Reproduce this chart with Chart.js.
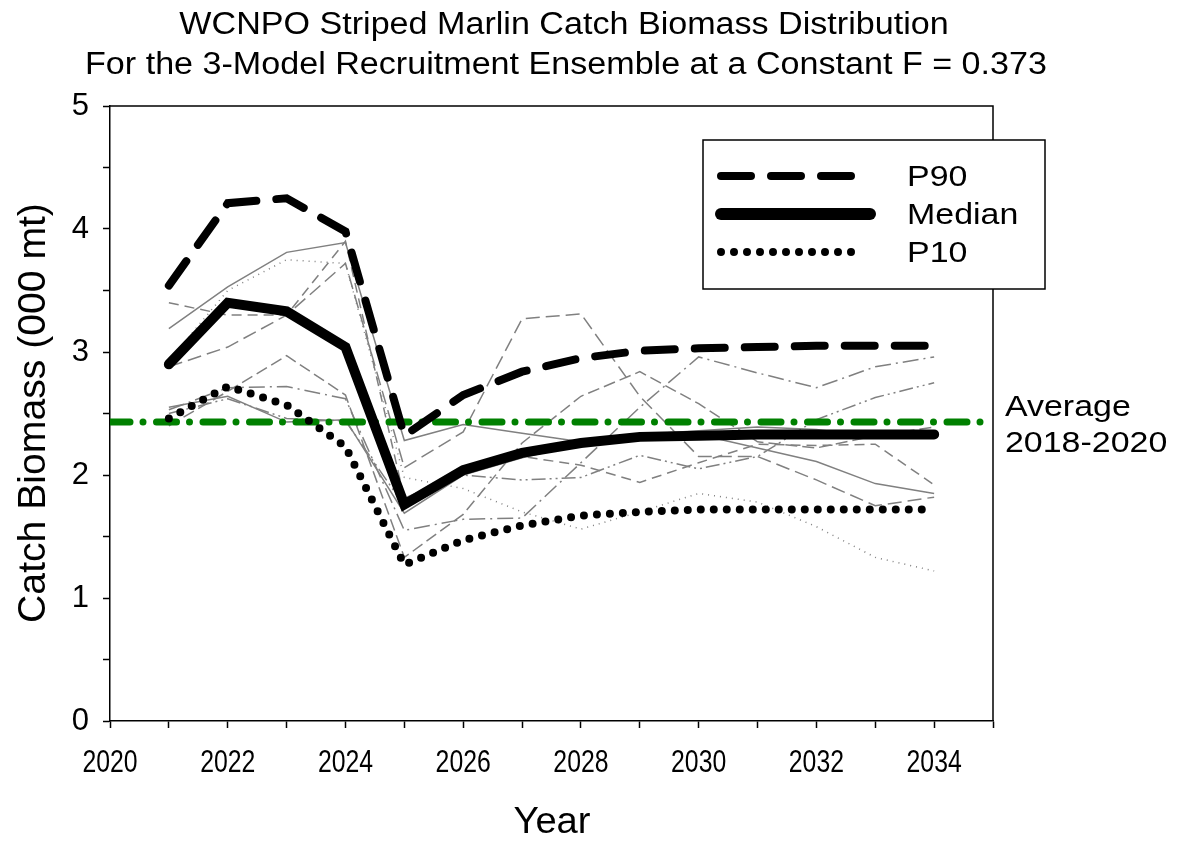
<!DOCTYPE html>
<html>
<head>
<meta charset="utf-8">
<script src="https://cdn.jsdelivr.net/npm/chart.js@4.4.1/dist/chart.umd.min.js"></script>
<style>
  html, body { margin: 0; padding: 0; background: #ffffff; }
  #wrap { width: 1177px; height: 844px; position: relative; }
</style>
</head>
<body>
<div id="wrap"><canvas id="catchChart"></canvas></div>
<script>
// WCNPO striped marlin catch biomass projections (000 mt)
const years = [2021, 2022, 2023, 2024, 2025, 2026, 2027, 2028, 2029, 2030, 2031, 2032, 2033, 2034];

const p90 = [3.54, 4.21, 4.25, 3.98, 2.32, 2.65, 2.84, 2.95, 3.01, 3.03, 3.04, 3.05, 3.05, 3.05];
const median = [2.90, 3.40, 3.33, 3.04, 1.76, 2.04, 2.18, 2.26, 2.31, 2.32, 2.33, 2.33, 2.33, 2.33];
const p10 = [2.46, 2.72, 2.57, 2.23, 1.27, 1.47, 1.59, 1.67, 1.70, 1.72, 1.72, 1.72, 1.72, 1.72];

// individual trajectories (grey)
const trajSolidA = [3.19, 3.53, 3.81, 3.89, 2.28, 2.41, 2.34, 2.27, 2.30, 2.33, 2.22, 2.11, 1.93, 1.85];
const trajDotted = [2.93, 3.50, 3.75, 3.72, 1.98, 1.89, 1.70, 1.56, 1.70, 1.85, 1.78, 1.58, 1.33, 1.22];
const trajLongDash = [2.88, 3.04, 3.30, 3.72, 2.06, 2.35, 3.27, 3.31, 2.64, 2.15, 2.15, 1.96, 1.75, 1.82];
const trajDashDot = [2.53, 2.71, 2.72, 2.62, 1.55, 1.64, 1.65, 2.10, 2.55, 2.96, 2.83, 2.71, 2.88, 2.96];
const trajDash = [3.40, 3.30, 3.30, 3.90, 1.81, 2.02, 2.15, 2.08, 1.94, 2.10, 2.25, 2.24, 2.25, 1.92];
const trajMedDash = [2.40, 2.68, 2.97, 2.65, 1.33, 1.68, 2.26, 2.64, 2.84, 2.58, 2.27, 2.22, 2.32, 2.39];
const trajSolidB = [2.55, 2.64, 2.43, 2.45, 1.69, 2.00, 2.14, 2.25, 2.33, 2.36, 2.39, 2.37, 2.31, 2.36];
const trajDashDotDot = [2.50, 2.62, 2.46, 2.44, 1.75, 2.00, 1.96, 1.98, 2.16, 2.05, 2.15, 2.45, 2.63, 2.75];

const avgYears = [2020, 2035];
const avgCatch = 2.43;

const xTickLabels = [2020, 2022, 2024, 2026, 2028, 2030, 2032, 2034];
const yTickLabels = [0, 1, 2, 3, 4, 5];

const FONT = "'Liberation Sans', Arial, sans-serif";
const GREY = "#808080";

function pts(values) {
  return values.map((v, i) => ({ x: years[i], y: v }));
}

function greyLine(label, values, dash) {
  return {
    label: label,
    data: pts(values),
    borderColor: GREY,
    borderWidth: 1.5,
    borderDash: dash,
    pointRadius: 0,
    fill: false,
    tension: 0,
  };
}

const mainStyles = {
  P90: { width: 8, dash: [30, 20], cap: "round" },
  Median: { width: 10, dash: [], cap: "round" },
  P10: { width: 8, dash: [0, 13], cap: "round" },
};

// text with a horizontal stretch factor (the original uses wide/narrow type)
function drawText(ctx, text, x, y, size, sx, align, baseline) {
  ctx.save();
  ctx.translate(x, y);
  ctx.scale(sx, 1);
  ctx.font = size + "px " + FONT;
  ctx.textAlign = align || "left";
  ctx.textBaseline = baseline || "alphabetic";
  ctx.fillStyle = "#000";
  ctx.fillText(text, 0, 0);
  ctx.restore();
}

// legend box, titles, x labels and the box frame are painted here
const decorations = {
  id: "decorations",
  afterDraw(chart) {
    const ctx = chart.ctx;
    const a = chart.chartArea;
    ctx.save();

    // frame top + right
    ctx.strokeStyle = "#000";
    ctx.lineWidth = 1.5;
    ctx.beginPath();
    ctx.moveTo(a.left, a.top);
    ctx.lineTo(a.right, a.top);
    ctx.lineTo(a.right, a.bottom);
    ctx.stroke();

    drawText(ctx, "WCNPO Striped Marlin Catch Biomass Distribution", 564, 34, 31, 1.1, "center");
    drawText(ctx, "For the 3-Model Recruitment Ensemble at a Constant F = 0.373", 566, 74, 31, 1.1, "center");

    // x tick labels (narrow type)
    const xs = chart.scales.x;
    xTickLabels.forEach((v) => {
      drawText(ctx, String(v), xs.getPixelForValue(v), 772, 31, 0.8, "center");
    });

    drawText(ctx, "Year", 552, 833, 36, 1.06, "center");

    ctx.save();
    ctx.translate(45, 413);
    ctx.rotate(-Math.PI / 2);
    drawText(ctx, "Catch Biomass (000 mt)", 0, 0, 38, 1.03, "center");
    ctx.restore();

    drawText(ctx, "Average", 1005, 416, 29, 1.17, "left");
    drawText(ctx, "2018-2020", 1005, 452, 29, 1.17, "left");

    // legend
    const lx = 703, ly = 140, lw = 342, lh = 149;
    ctx.fillStyle = "#fff";
    ctx.fillRect(lx, ly, lw, lh);
    ctx.strokeStyle = "#000";
    ctx.lineWidth = 1.5;
    ctx.strokeRect(lx, ly, lw, lh);

    const rows = [
      { name: "P90", y: 176, x2: 853 },
      { name: "Median", y: 214, x2: 870 },
      { name: "P10", y: 252, x2: 862 },
    ];
    rows.forEach((r) => {
      const s = mainStyles[r.name];
      ctx.strokeStyle = "#000";
      ctx.lineWidth = r.name === "Median" ? 12 : s.width;
      ctx.lineCap = s.cap;
      ctx.setLineDash(s.dash);
      ctx.beginPath();
      ctx.moveTo(721, r.y);
      ctx.lineTo(r.x2, r.y);
      ctx.stroke();
      ctx.setLineDash([]);
      drawText(ctx, r.name, 907, r.y + 10, 29, 1.17, "left");
    });

    ctx.restore();
  },
};

const ctx = document.getElementById("catchChart");

new Chart(ctx.getContext("2d"), {
  type: "line",
  data: {
    datasets: [
      {
        label: "Median",
        data: pts(median),
        borderColor: "#000",
        borderWidth: mainStyles.Median.width,
        borderCapStyle: "round",
        borderJoinStyle: "miter",
        pointRadius: 0,
        fill: false,
      },
      {
        label: "P90",
        data: pts(p90),
        borderColor: "#000",
        borderWidth: mainStyles.P90.width,
        borderDash: mainStyles.P90.dash,
        borderCapStyle: "round",
        pointRadius: 0,
        fill: false,
      },
      {
        label: "P10",
        data: pts(p10),
        borderColor: "#000",
        borderWidth: mainStyles.P10.width,
        borderDash: mainStyles.P10.dash,
        borderCapStyle: "round",
        pointRadius: 0,
        fill: false,
      },
      {
        label: "Average 2018-2020",
        data: avgYears.map((yr) => ({ x: yr, y: avgCatch })),
        borderColor: "#008000",
        borderWidth: 7,
        borderDash: [20, 13, 0, 13.5],
        borderCapStyle: "round",
        pointRadius: 0,
        fill: false,
      },
      greyLine("traj 1", trajSolidA, []),
      greyLine("traj 2", trajDotted, [1, 5]),
      greyLine("traj 3", trajLongDash, [14, 6]),
      greyLine("traj 4", trajDashDot, [16, 5, 2, 5]),
      greyLine("traj 5", trajDash, [10, 6]),
      greyLine("traj 6", trajMedDash, [12, 5]),
      greyLine("traj 7", trajSolidB, []),
      greyLine("traj 8", trajDashDotDot, [14, 4, 2, 4, 2, 4]),
    ],
  },
  options: {
    responsive: true,
    maintainAspectRatio: false,
    animation: false,
    layout: {
      padding: { top: 106, right: 184, left: 0, bottom: 0 },
    },
    plugins: {
      legend: { display: false },
      title: { display: false },
      tooltip: { enabled: false },
    },
    scales: {
      x: {
        type: "linear",
        min: 2020,
        max: 2035,
        afterFit: (scale) => { scale.height = 123; },
        grid: {
          drawOnChartArea: false,
          drawTicks: true,
          tickLength: 7,
          tickColor: "#000",
          tickWidth: 1.5,
        },
        border: { display: true, color: "#000", width: 1.5 },
        ticks: {
          stepSize: 1,
          autoSkip: false,
          maxRotation: 0,
          padding: 18,
          color: "#000",
          font: { family: FONT, size: 25 },
          callback: () => "",
        },
      },
      y: {
        min: 0,
        max: 5,
        afterFit: (scale) => { scale.width = 110; },
        grid: {
          drawOnChartArea: false,
          drawTicks: true,
          tickLength: 7,
          tickColor: "#000",
          tickWidth: 1.5,
        },
        border: { display: true, color: "#000", width: 1.5 },
        ticks: {
          stepSize: 0.5,
          autoSkip: false,
          padding: 14,
          color: "#000",
          font: { family: FONT, size: 31 },
          callback: (value) => (yTickLabels.includes(value) ? String(value) : ""),
        },
      },
    },
  },
  plugins: [decorations],
});
</script>
</body>
</html>
